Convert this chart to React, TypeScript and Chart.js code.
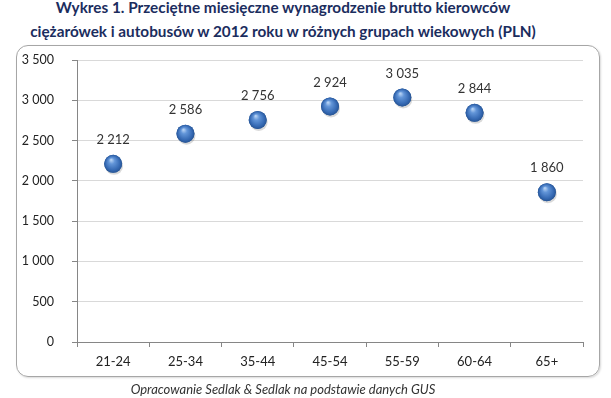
import React, { useEffect, useRef } from "react";
import { Chart, registerables } from "chart.js";

Chart.register(...registerables);

const categories = ["21-24", "25-34", "35-44", "45-54", "55-59", "60-64", "65+"];
const salaries = [2212, 2586, 2756, 2924, 3035, 2844, 1860];
const yMin = 0;
const yMax = 3500;
const yStep = 500;

const titleLines = [
  "Wykres 1. Przeciętne miesięczne wynagrodzenie brutto kierowców",
  "ciężarówek i autobusów w 2012 roku w różnych grupach wiekowych (PLN)",
];
const caption = "Opracowanie Sedlak & Sedlak na podstawie danych GUS";

const fmt = (v: number) => String(v).replace(/\B(?=(\d{3})+(?!\d))/g, " ");

const FONT = "Lato, 'Open Sans', sans-serif";

const spherePlugin = {
  id: "spheres",
  afterDatasetsDraw(chart: any) {
    const ctx = chart.ctx;
    const meta = chart.getDatasetMeta(0);
    meta.data.forEach((el: any, i: number) => {
      const x = el.x;
      const y = el.y;
      const r = 9;
      ctx.save();
      ctx.beginPath();
      ctx.ellipse(x + 1, y + 2, r, r, 0, 0, Math.PI * 2);
      ctx.fillStyle = "rgba(0,0,0,0.15)";
      ctx.fill();
      const g = ctx.createRadialGradient(x - 2, y - 4, 0.5, x, y, r);
      g.addColorStop(0, "#b3d0f3");
      g.addColorStop(0.3, "#6295d8");
      g.addColorStop(0.8, "#3468b2");
      g.addColorStop(1, "#285594");
      ctx.beginPath();
      ctx.arc(x, y, r, 0, Math.PI * 2);
      ctx.fillStyle = g;
      ctx.fill();
      ctx.fillStyle = "#333333";
      ctx.font = `13px ${FONT}`;
      ctx.textAlign = "center";
      ctx.textBaseline = "middle";
      ctx.fillText(fmt(salaries[i]), x, y - 24);
      ctx.restore();
    });
  },
};

export default function App() {
  const canvasRef = useRef<HTMLCanvasElement | null>(null);

  useEffect(() => {
    if (!canvasRef.current) return;
    const chart = new Chart(canvasRef.current, {
      type: "line",
      data: {
        labels: categories,
        datasets: [
          {
            data: salaries,
            showLine: false,
            pointRadius: 9,
            pointBackgroundColor: "#3f73ba",
            pointBorderWidth: 0,
          },
        ],
      },
      options: {
        responsive: false,
        animation: false,
        devicePixelRatio: 1,
        layout: { padding: { left: 15, right: 28, top: 60, bottom: 26 } },
        plugins: {
          legend: { display: false },
          tooltip: { enabled: false },
        },
        scales: {
          x: {
            type: "category",
            offset: true,
            afterFit: (s: any) => {
              s.height = 30;
            },
            grid: {
              offset: true,
              drawOnChartArea: false,
              drawTicks: true,
              tickLength: 5,
              tickColor: "#868686",
            },
            border: { display: true, color: "#868686" },
            ticks: {
              color: "#222222",
              font: { family: FONT, size: 13 },
              padding: 7,
              maxRotation: 0,
            },
          },
          y: {
            min: yMin,
            max: yMax,
            afterFit: (s: any) => {
              s.width = 62;
            },
            grid: {
              color: "#d9d9d9",
              drawTicks: true,
              tickLength: 5,
              tickColor: "#868686",
            },
            border: { display: true, color: "#868686" },
            ticks: {
              stepSize: yStep,
              color: "#222222",
              font: { family: FONT, size: 12.5 },
              padding: 18,
              callback: (v: any) => fmt(Number(v)),
            },
          },
        },
      },
      plugins: [spherePlugin],
    } as any);
    return () => chart.destroy();
  }, []);

  return (
    <div
      style={{
        position: "absolute",
        left: 0,
        top: 0,
        width: 611,
        height: 398,
        background: "#ffffff",
        overflow: "hidden",
      }}
    >
      <div
        style={{
          position: "absolute",
          left: 0,
          top: -5,
          width: 566,
          textAlign: "center",
          fontFamily: FONT,
          fontWeight: 700,
          fontSize: 15.3,
          lineHeight: "24px",
          color: "#1b2d5e",
          whiteSpace: "nowrap",
        }}
      >
        <div>{titleLines[0]}</div>
        <div>{titleLines[1]}</div>
      </div>
      <div
        style={{
          position: "absolute",
          left: 16,
          top: 45,
          width: 582,
          height: 330,
          border: "1px solid #a6a6a6",
          borderRadius: 12,
          boxShadow: "1px 1px 2px rgba(0,0,0,0.15)",
        }}
      />
      <canvas
        ref={canvasRef}
        width={611}
        height={398}
        style={{ position: "absolute", left: 0, top: 0, width: 611, height: 398 }}
      />
      <div
        style={{
          position: "absolute",
          left: 0,
          top: 381,
          width: 566,
          textAlign: "center",
          fontFamily: FONT,
          fontStyle: "italic",
          fontSize: 13,
          lineHeight: "16px",
          color: "#333333",
          whiteSpace: "nowrap",
        }}
      >
        {caption}
      </div>
    </div>
  );
}
